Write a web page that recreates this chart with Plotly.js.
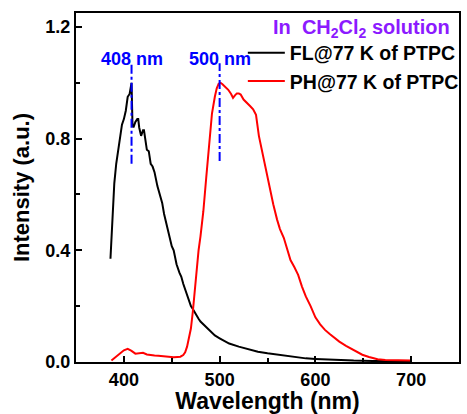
<!DOCTYPE html>
<html>
<head>
<meta charset="utf-8">
<script src="https://cdn.plot.ly/plotly-3.0.1.min.js"></script>
<style>html,body{margin:0;padding:0;background:#fff;}#chart{width:467px;height:414px;}</style>
</head>
<body>
<div id="chart"></div>
<script>
// FL@77 K emission (black)
const flWavelength = [386,388,390,392,394,396,398,400,402,404,406,407,408,409,410,412,414,415,416,418,420,421,423,424,426,428,430,432,435,438,440,442,445,448,450,452,455,458,460,462,465,468,470,472,475,478,480,485,490,495,500,505,510,520,530,540,550,560,570,580,590,600,620,640,660,680,700];
const flIntensity = [0.37,0.52,0.64,0.71,0.76,0.80,0.85,0.87,0.90,0.95,0.96,0.98,1.0,0.85,0.84,0.86,0.87,0.87,0.84,0.81,0.83,0.83,0.77,0.76,0.755,0.71,0.70,0.68,0.63,0.595,0.57,0.53,0.49,0.44,0.415,0.40,0.35,0.32,0.305,0.28,0.25,0.22,0.20,0.19,0.17,0.155,0.145,0.128,0.11,0.095,0.085,0.075,0.066,0.055,0.045,0.037,0.031,0.026,0.021,0.017,0.013,0.011,0.007,0.005,0.004,0.003,0.003];
// PH@77 K emission (red)
const phWavelength = [387,392,396,400,404,408,412,416,420,424,428,432,436,440,444,448,452,456,459,462,464,466,468,470,472,474,476,478,480,483,486,488,490,492,495,497,499,501,503,506,509,512,514,516,518,520,522,525,528,532,535,538,541,544,547,550,553,556,560,563,567,570,574,578,582,586,590,595,600,605,610,615,620,625,632,640,649,656,665,673,685,700];
const phIntensity = [0.005,0.02,0.033,0.042,0.047,0.04,0.03,0.032,0.033,0.027,0.024,0.023,0.022,0.021,0.019,0.017,0.017,0.018,0.019,0.025,0.035,0.055,0.085,0.12,0.18,0.26,0.33,0.40,0.45,0.54,0.66,0.74,0.82,0.89,0.95,0.98,0.997,1.0,0.995,0.985,0.975,0.96,0.946,0.955,0.962,0.962,0.958,0.94,0.928,0.916,0.905,0.885,0.81,0.76,0.71,0.66,0.61,0.565,0.51,0.476,0.445,0.41,0.365,0.34,0.312,0.27,0.235,0.2,0.16,0.135,0.115,0.1,0.085,0.073,0.058,0.042,0.026,0.018,0.01,0.007,0.005,0.005];
const seriesNames = ['FL@77 K of PTPC', 'PH@77 K of PTPC'];
const peakWavelengths = [408, 500];
const peakLabels = ['408 nm', '500 nm'];
const peakLineSpan = [[0.71, 1.07], [0.72, 1.07]];
const xTicks = [400, 500, 600, 700];
const yTicks = [0.0, 0.4, 0.8, 1.2];

const FONT = 'Liberation Sans, Arial, sans-serif';

const traces = [
  {x: flWavelength, y: flIntensity, type: 'scatter', mode: 'lines', name: seriesNames[0],
   line: {color: '#000000', width: 2}},
  {x: phWavelength, y: phIntensity, type: 'scatter', mode: 'lines', name: seriesNames[1],
   line: {color: '#ff0000', width: 2}}
];

const shapes = peakWavelengths.map((w, i) => ({
  type: 'line', xref: 'x', yref: 'y', x0: w, x1: w, y0: peakLineSpan[i][0], y1: peakLineSpan[i][1],
  line: {color: '#0000ff', width: 2, dash: 'dashdot'}
}));

const annotations = peakWavelengths.map((w, i) => ({
  x: w, y: 1.084, xref: 'x', yref: 'y', text: peakLabels[i], showarrow: false,
  xanchor: 'center', yanchor: 'middle',
  font: {family: FONT, size: 18, color: '#0000ff', weight: 'bold'}
}));
annotations.push({
  x: 0.745, y: 0.955, xref: 'paper', yref: 'paper', showarrow: false,
  text: 'In  CH<sub>2</sub>Cl<sub>2</sub> solution', xanchor: 'center', yanchor: 'middle',
  font: {family: FONT, size: 20, color: '#8c1aff', weight: 'bold'}
});

const layout = {
  width: 467, height: 414,
  margin: {l: 76, r: 3, t: 13, b: 52},
  paper_bgcolor: '#ffffff', plot_bgcolor: '#ffffff',
  showlegend: true,
  legend: {x: 0.4356, y: 0.941, xanchor: 'left', yanchor: 'top', bgcolor: 'rgba(0,0,0,0)',
    itemwidth: 37,
    font: {family: FONT, size: 19.5, color: '#000000', weight: 'bold'}, tracegroupgap: 0},
  xaxis: {
    range: [350, 750], tickvals: xTicks, ticks: 'inside', ticklen: 6, tickwidth: 2, tickcolor: '#000',
    minor: {dtick: 50, tick0: 350, ticks: 'inside', ticklen: 4, tickwidth: 2, tickcolor: '#000'},
    showline: true, linewidth: 2, linecolor: '#000', mirror: true, showgrid: false, zeroline: false,
    tickfont: {family: FONT, size: 18, color: '#000', weight: 'bold'},
    title: {text: 'Wavelength (nm)', font: {family: FONT, size: 23, color: '#000', weight: 'bold'}, standoff: 0},
    automargin: false
  },
  yaxis: {
    range: [0, 1.25], tickvals: yTicks, tickformat: '.1f', ticks: 'inside', ticklen: 6, tickwidth: 2, tickcolor: '#000',
    minor: {dtick: 0.2, tick0: 0, ticks: 'inside', ticklen: 4, tickwidth: 2, tickcolor: '#000'},
    showline: true, linewidth: 2, linecolor: '#000', mirror: true, showgrid: false, zeroline: false,
    tickfont: {family: FONT, size: 18, color: '#000', weight: 'bold'},
    title: {text: 'Intensity (a.u.)', font: {family: FONT, size: 22, color: '#000', weight: 'bold'}, standoff: 10},
    automargin: false
  },
  shapes: shapes,
  annotations: annotations
};

Plotly.newPlot('chart', traces, layout, {displayModeBar: false, staticPlot: true});
</script>
</body>
</html>
